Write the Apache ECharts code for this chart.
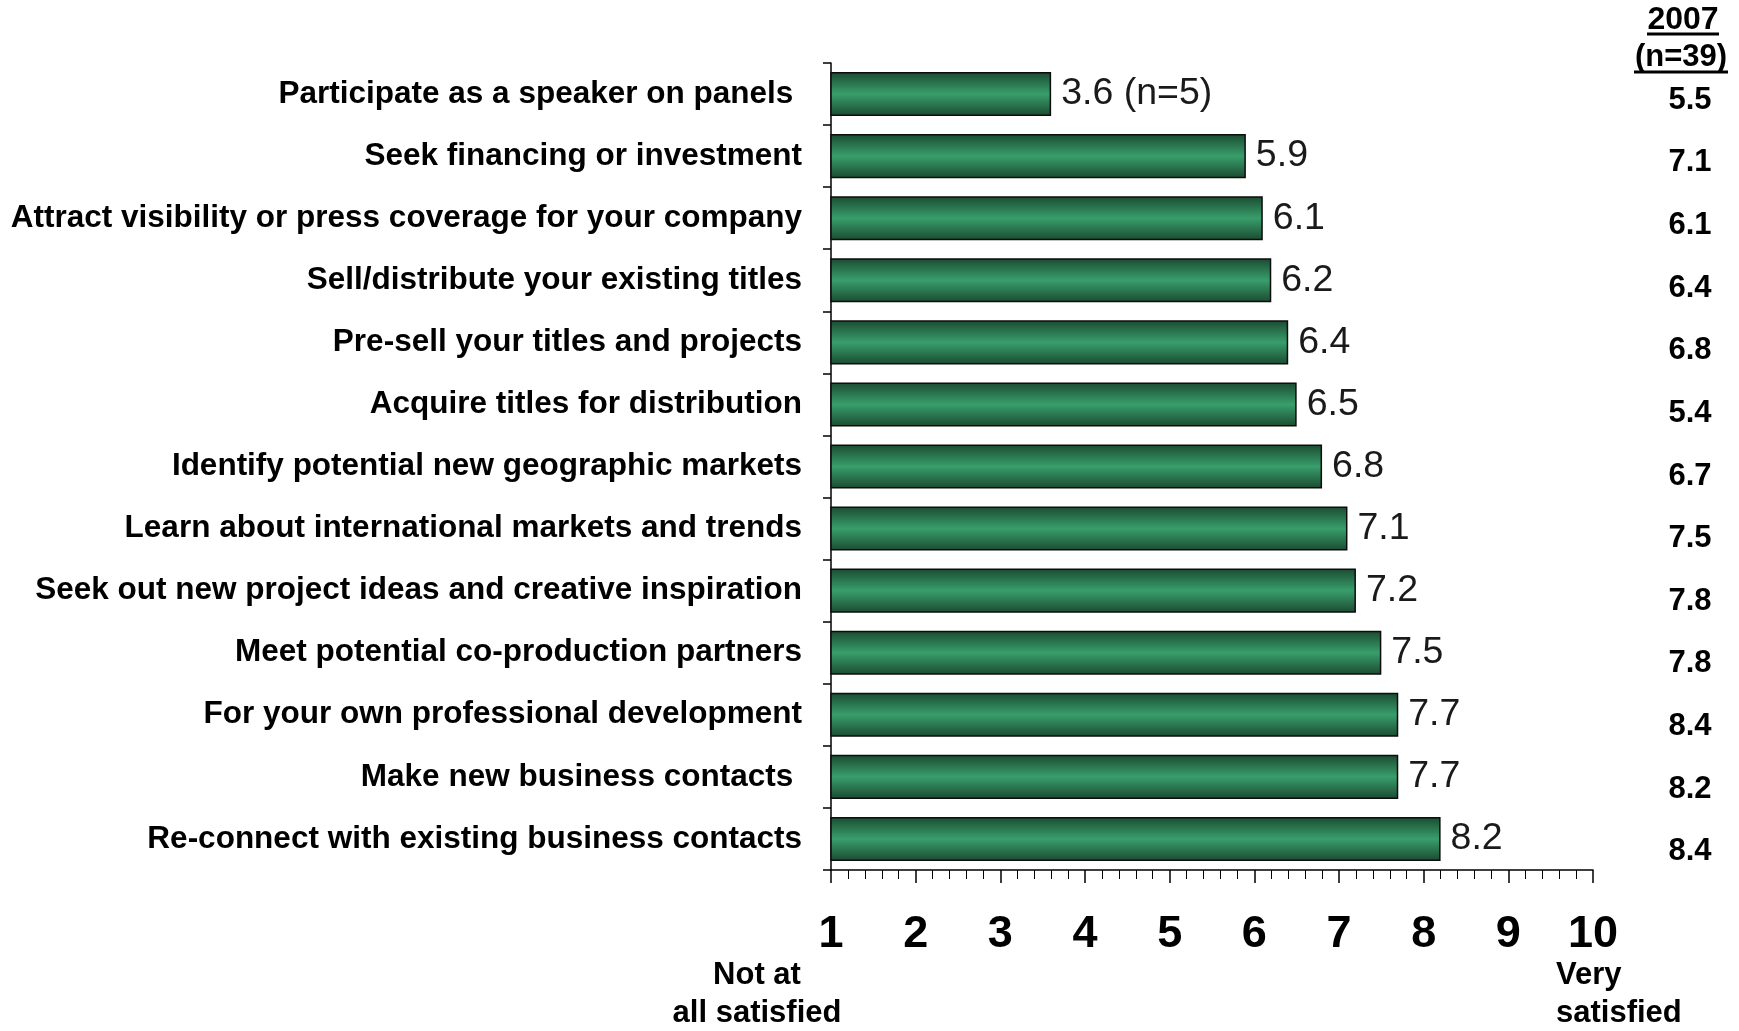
<!DOCTYPE html>
<html>
<head>
<meta charset="utf-8">
<script src="https://cdn.jsdelivr.net/npm/echarts@6/dist/echarts.min.js"></script>
<style>
  html, body { margin: 0; padding: 0; background: #fff; }
  #chart { width: 1739px; height: 1031px; }
</style>
</head>
<body>
<div id="chart"></div>
<script>
// Satisfaction with goals at the market (1 = not at all satisfied, 10 = very satisfied)
const categories = [
  'Participate as a speaker on panels ',
  'Seek financing or investment',
  'Attract visibility or press coverage for your company',
  'Sell/distribute your existing titles',
  'Pre-sell your titles and projects',
  'Acquire titles for distribution',
  'Identify potential new geographic markets',
  'Learn about international markets and trends',
  'Seek out new project ideas and creative inspiration',
  'Meet potential co-production partners',
  'For your own professional development',
  'Make new business contacts ',
  'Re-connect with existing business contacts'
];
const scores = [3.6, 5.9, 6.1, 6.2, 6.4, 6.5, 6.8, 7.1, 7.2, 7.5, 7.7, 7.7, 8.2];
const scoreNotes = ['(n=5)', '', '', '', '', '', '', '', '', '', '', '', ''];
const prior2007 = ['5.5', '7.1', '6.1', '6.4', '6.8', '5.4', '6.7', '7.5', '7.8', '7.8', '8.4', '8.2', '8.4'];
const scaleTicks = [1, 2, 3, 4, 5, 6, 7, 8, 9, 10];

const FONT = '"Liberation Sans", Arial, sans-serif';

const chart = echarts.init(document.getElementById('chart'), null, { renderer: 'canvas' });

const barFill = new echarts.graphic.LinearGradient(0, 0, 0, 1, [
  { offset: 0, color: '#1b4a31' },
  { offset: 0.5, color: '#389e6b' },
  { offset: 1, color: '#1b4a31' }
]);

chart.setOption({
  backgroundColor: '#ffffff',
  animation: false,
  grid: [
    { left: 831, top: 63, width: 762, height: 807 },
    { left: 1700, top: 69, width: 30, height: 814 }
  ],
  xAxis: [
    {
      gridIndex: 0,
      type: 'value',
      min: scaleTicks[0],
      max: scaleTicks[scaleTicks.length - 1],
      interval: 1,
      splitLine: { show: false },
      axisLine: { show: true, lineStyle: { color: '#000', width: 1.5 } },
      axisTick: { show: true, length: 13, lineStyle: { color: '#000', width: 1.5 } },
      minorTick: { show: true, splitNumber: 5, length: 9, lineStyle: { color: '#000', width: 1 } },
      axisLabel: {
        margin: 42,
        fontFamily: FONT,
        fontWeight: 'bold',
        fontSize: 45,
        color: '#000'
      }
    },
    { gridIndex: 1, type: 'value', show: false }
  ],
  yAxis: [
    {
      gridIndex: 0,
      type: 'category',
      inverse: true,
      data: categories,
      axisLine: { show: true, lineStyle: { color: '#000', width: 1.5 } },
      axisTick: { show: true, length: 8, lineStyle: { color: '#000', width: 1.5 } },
      axisLabel: {
        margin: 29,
        fontFamily: FONT,
        fontWeight: 'bold',
        fontSize: 31.5,
        color: '#000'
      }
    },
    {
      gridIndex: 1,
      type: 'category',
      inverse: true,
      data: prior2007,
      axisLine: { show: false },
      axisTick: { show: false },
      axisLabel: {
        margin: 10,
        align: 'center',
        fontFamily: FONT,
        fontWeight: 'bold',
        fontSize: 31,
        color: '#000',
        formatter: (v, i) => prior2007[i]
      }
    }
  ],
  series: [
    {
      type: 'bar',
      xAxisIndex: 0,
      yAxisIndex: 0,
      data: scores,
      barCategoryGap: '29%',
      itemStyle: { color: barFill, borderColor: '#0d0d0d', borderWidth: 1.5 },
      label: {
        show: true,
        position: 'right',
        distance: 10,
        fontFamily: FONT,
        fontSize: 37.5,
        color: '#1a1a1a',
        formatter: (p) => {
          const note = scoreNotes[p.dataIndex];
          return note ? p.value + ' ' + note : String(p.value);
        }
      }
    }
  ],
  graphic: [
    {
      type: 'text', x: 1683, y: 20,
      style: { text: '2007', fontFamily: FONT, fontWeight: 'bold', fontSize: 32, fill: '#000', align: 'center', verticalAlign: 'middle' }
    },
    { type: 'line', shape: { x1: 1647, y1: 34, x2: 1719, y2: 34 }, style: { stroke: '#000', lineWidth: 3 } },
    {
      type: 'text', x: 1681, y: 57,
      style: { text: '(n=39)', fontFamily: FONT, fontWeight: 'bold', fontSize: 31, fill: '#000', align: 'center', verticalAlign: 'middle' }
    },
    { type: 'line', shape: { x1: 1634, y1: 72, x2: 1728, y2: 72 }, style: { stroke: '#000', lineWidth: 3 } },
    {
      type: 'text', x: 757, y: 994,
      style: { text: 'Not at\nall satisfied', fontFamily: FONT, fontWeight: 'bold', fontSize: 31, lineHeight: 38, fill: '#000', align: 'center', verticalAlign: 'middle' }
    },
    {
      type: 'text', x: 1556, y: 994,
      style: { text: 'Very\nsatisfied', fontFamily: FONT, fontWeight: 'bold', fontSize: 31, lineHeight: 38, fill: '#000', align: 'left', verticalAlign: 'middle' }
    }
  ]
});
</script>
</body>
</html>
